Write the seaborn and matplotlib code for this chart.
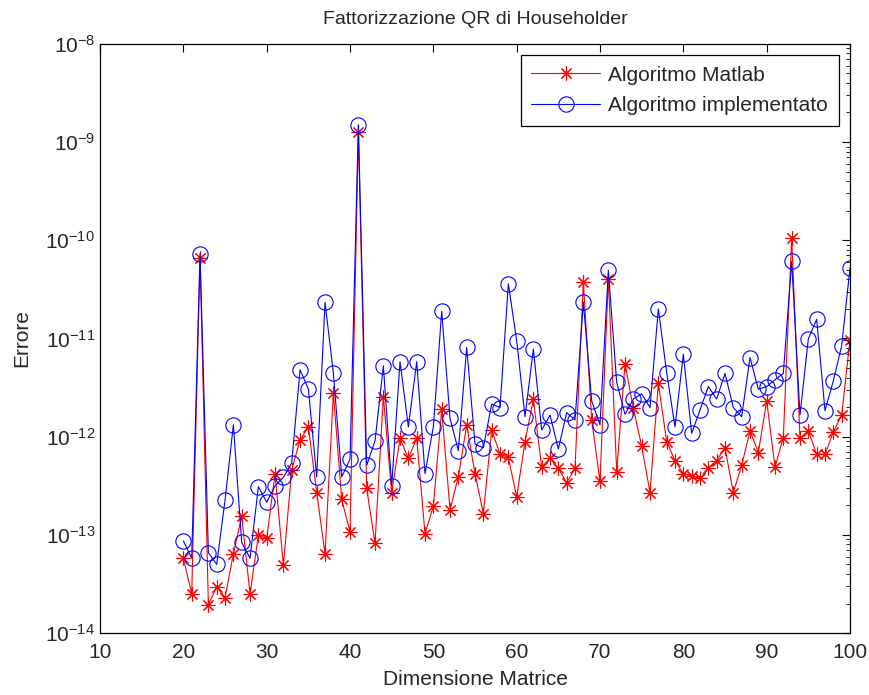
import seaborn as sns
import pandas as pd
import matplotlib.pyplot as plt
import numpy as np

n = list(range(20, 101))
err_matlab = [5.8e-14, 2.5e-14, 6.6e-11, 1.95e-14, 2.95e-14, 2.3e-14, 6.4e-14, 1.55e-13, 2.5e-14, 1.0e-13,
              9.2e-14, 4.2e-13, 4.9e-14, 4.6e-13, 9.2e-13, 1.26e-12, 2.7e-13, 6.4e-14, 2.77e-12, 2.3e-13,
              1.07e-13, 1.25e-9, 2.97e-13, 8.2e-14, 2.56e-12, 2.7e-13, 9.6e-13, 6.0e-13, 9.6e-13, 1.03e-13,
              1.96e-13, 1.9e-12, 1.8e-13, 3.9e-13, 1.32e-12, 4.2e-13, 1.65e-13, 1.17e-12, 6.65e-13, 6.15e-13,
              2.44e-13, 8.9e-13, 2.4e-12, 4.9e-13, 6.0e-13, 4.75e-13, 3.4e-13, 4.75e-13, 3.76e-11, 1.48e-12,
              3.5e-13, 4.06e-11, 4.4e-13, 5.5e-12, 1.95e-12, 8.0e-13, 2.7e-13, 3.5e-12, 8.9e-13, 5.7e-13,
              4.2e-13, 4.0e-13, 3.76e-13, 4.75e-13, 5.7e-13, 7.7e-13, 2.7e-13, 5.1e-13, 1.15e-12, 6.9e-13,
              2.31e-12, 4.9e-13, 9.8e-13, 1.06e-10, 9.6e-13, 1.15e-12, 6.6e-13, 6.6e-13, 1.12e-12, 1.66e-12,
              9.7e-12]
err_impl = [8.7e-14, 5.8e-14, 7.3e-11, 6.6e-14, 5.0e-14, 2.26e-13, 1.32e-12, 8.4e-14, 5.8e-14, 3.1e-13,
            2.15e-13, 3.16e-13, 3.85e-13, 5.4e-13, 4.8e-12, 3.06e-12, 3.9e-13, 2.33e-11, 4.43e-12, 3.9e-13,
            5.9e-13, 1.5e-9, 5.1e-13, 9.1e-13, 5.26e-12, 3.16e-13, 5.8e-12, 1.26e-12, 5.8e-12, 4.2e-13,
            1.26e-12, 1.89e-11, 1.54e-12, 7.2e-13, 8.1e-12, 8.4e-13, 7.7e-13, 2.15e-12, 1.98e-12, 3.6e-11,
            9.5e-12, 1.6e-12, 7.8e-12, 1.17e-12, 1.66e-12, 7.5e-13, 1.76e-12, 1.48e-12, 2.33e-11, 2.31e-12,
            1.32e-12, 4.94e-11, 3.58e-12, 1.69e-12, 2.42e-12, 2.73e-12, 1.98e-12, 2.0e-11, 4.5e-12, 1.26e-12,
            6.9e-12, 1.08e-12, 1.87e-12, 3.24e-12, 2.42e-12, 4.4e-12, 1.98e-12, 1.6e-12, 6.4e-12, 3.04e-12,
            3.24e-12, 3.8e-12, 4.4e-12, 6.1e-11, 1.66e-12, 9.9e-12, 1.57e-11, 1.84e-12, 3.7e-12, 8.4e-12,
            5.2e-11]

df = pd.DataFrame({"n": n, "matlab": err_matlab, "impl": err_impl})

sns.set_style("white")
plt.rcParams["font.family"] = ["Liberation Sans", "DejaVu Sans"]
plt.rcParams["axes.unicode_minus"] = False

fig = plt.figure(figsize=(8.7, 6.95), dpi=100)
ax = fig.add_axes([0.115, 0.089, 0.862, 0.848])

sns.lineplot(data=df, x="n", y="matlab", ax=ax, color="red", lw=0.8,
             marker=(8, 2, 0), markersize=10, markeredgecolor="red", markeredgewidth=0.8,
             label="Algoritmo Matlab")
sns.lineplot(data=df, x="n", y="impl", ax=ax, color="blue", lw=0.8,
             marker="o", markersize=11, markerfacecolor="none", markeredgecolor="blue",
             markeredgewidth=0.8, label="Algoritmo implementato")

ax.set_yscale("log")
ax.set_xlim(10, 100)
ax.set_ylim(1e-14, 1e-8)
ax.set_xticks(range(10, 101, 10))
ax.tick_params(which="both", direction="in", top=True, right=True, labelsize=15, color="black")
ax.tick_params(which="major", length=6, width=0.8)
ax.tick_params(which="minor", length=3, width=0.6)
ax.tick_params(axis="x", which="minor", bottom=False, top=False)
ax.tick_params(axis="x", which="major", pad=7)
for s in ax.spines.values():
    s.set_color("black")
    s.set_linewidth(0.9)

ax.set_title("Fattorizzazione QR di Householder", fontsize=14, pad=14)
ax.set_xlabel("Dimensione Matrice", fontsize=15, labelpad=6)
ax.set_ylabel("Errore", fontsize=15, labelpad=10)

leg = ax.legend(loc="upper right", fontsize=15, fancybox=False, edgecolor="black",
                framealpha=1, handlelength=3.3, handletextpad=0.4, labelspacing=0.55,
                borderpad=0.5, borderaxespad=0.55)
leg.get_frame().set_linewidth(0.9)

plt.savefig("out.png", dpi=100)
